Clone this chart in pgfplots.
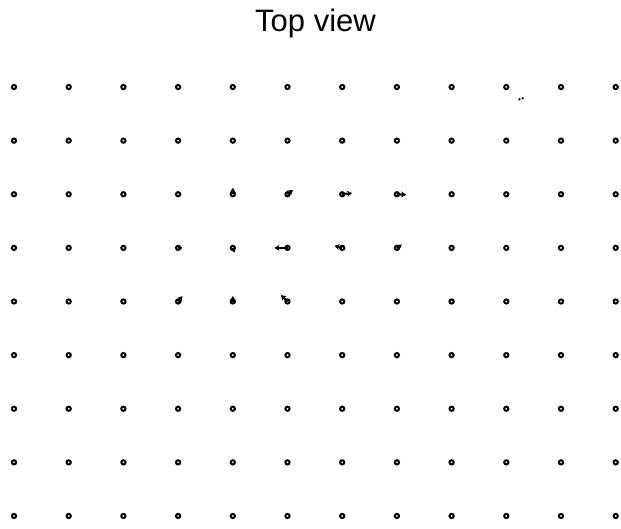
\documentclass[border=0pt]{standalone}
\usepackage{pgfplots}
\pgfplotsset{compat=1.18}
\usepackage{pgfplotstable}
\usepackage{fontspec}
\setmainfont{Liberation Sans}
\usetikzlibrary{arrows.meta}

% grid of sensor points: column, row (row 1 at top)
\pgfplotstableread{
x y
1 1
2 1
3 1
4 1
5 1
6 1
7 1
8 1
9 1
10 1
11 1
12 1
1 2
2 2
3 2
4 2
5 2
6 2
7 2
8 2
9 2
10 2
11 2
12 2
1 3
2 3
3 3
4 3
5 3
6 3
7 3
8 3
9 3
10 3
11 3
12 3
1 4
2 4
3 4
4 4
5 4
6 4
7 4
8 4
9 4
10 4
11 4
12 4
1 5
2 5
3 5
4 5
5 5
6 5
7 5
8 5
9 5
10 5
11 5
12 5
1 6
2 6
3 6
4 6
5 6
6 6
7 6
8 6
9 6
10 6
11 6
12 6
1 7
2 7
3 7
4 7
5 7
6 7
7 7
8 7
9 7
10 7
11 7
12 7
1 8
2 8
3 8
4 8
5 8
6 8
7 8
8 8
9 8
10 8
11 8
12 8
1 9
2 9
3 9
4 9
5 9
6 9
7 9
8 9
9 9
10 9
11 9
12 9
}\gridpts

% displacement vectors near the centre
\pgfplotstableread{
x y u v
5 3 0.00 -0.12
6 3 0.10 -0.08
7 3 0.18 -0.02
8 3 0.17 0.01
4 4 0.08 0.00
5 4 0.03 0.09
6 4 -0.24 0.00
7 4 -0.14 -0.04
8 4 0.09 -0.06
4 5 0.08 -0.10
5 5 0.00 -0.10
6 5 -0.12 -0.12
}\vecs

\pgfplotstableread{
x y
10.24 1.23
10.30 1.21
}\specks

\begin{document}
\begin{tikzpicture}
  \begin{axis}[
      scale only axis,
      width=621pt, height=529pt,
      hide axis,
      xmin=0.744, xmax=12.097,
      ymin=-0.623, ymax=9.243,
      y dir=reverse,
      clip=false,
      title={Top view},
      title style={at={(0.5,1)}, anchor=base, yshift=-37pt, xshift=5pt,
        font=\fontsize{31}{32}\selectfont, inner sep=0pt},
    ]
    \path (axis description cs:0,0) rectangle (axis description cs:1,1);
    \addplot[only marks, mark=o, mark size=2.1pt,
      mark options={line width=2pt, black}] table[x=x, y=y] {\gridpts};
    \addplot[black, line width=2.2pt, -{Stealth[length=5pt, width=6pt]},
      quiver={u=\thisrow{u}, v=\thisrow{v}}] table[x=x, y=y] {\vecs};
    \addplot[only marks, mark=*, mark size=0.9pt, black] table[x=x, y=y] {\specks};
  \end{axis}
\end{tikzpicture}
\end{document}
